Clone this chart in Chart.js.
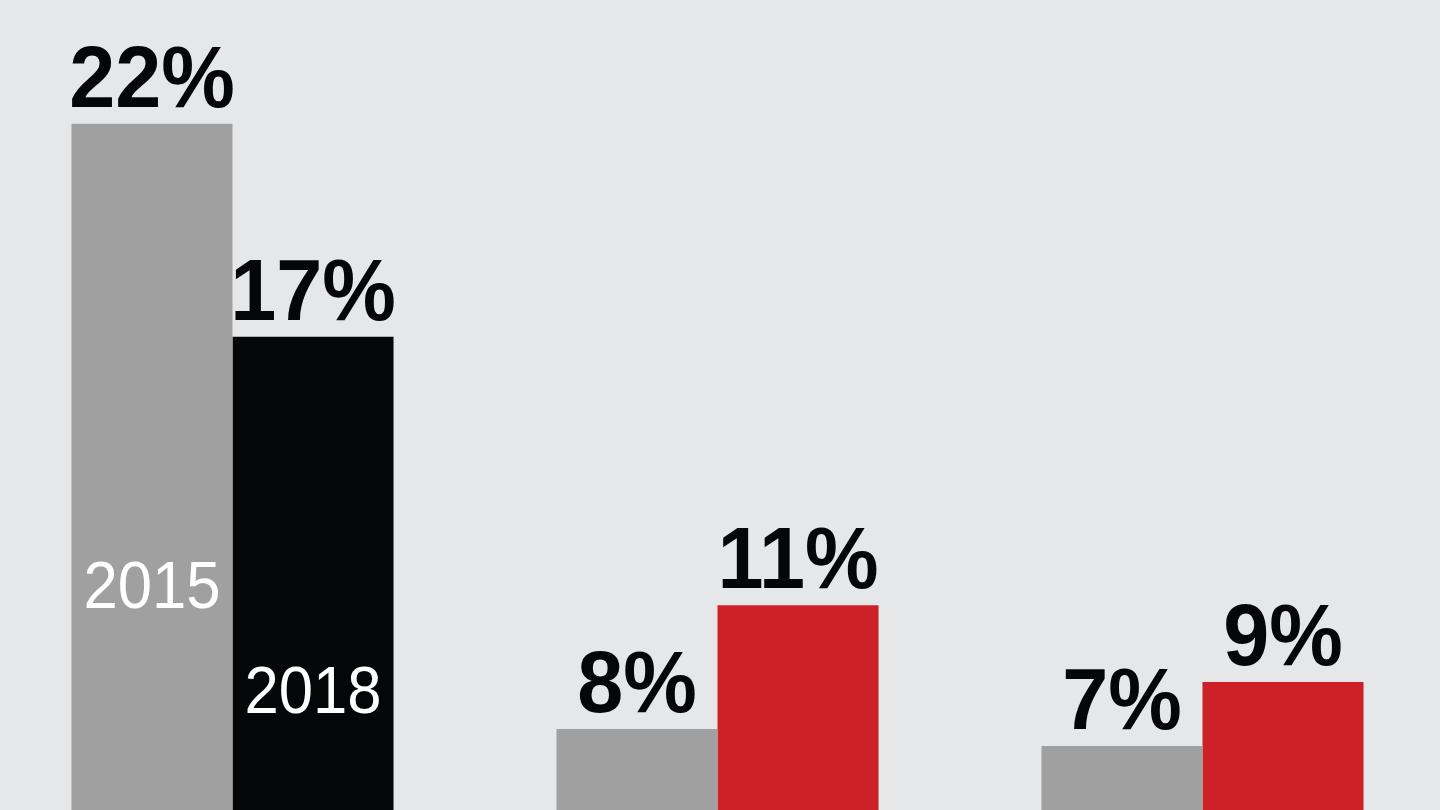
<!DOCTYPE html>
<html>
<head>
<meta charset="utf-8">
<script src="https://cdn.jsdelivr.net/npm/chart.js@4.4.1/dist/chart.umd.min.js"></script>
<style>
    html, body { margin: 0; padding: 0; background: #e6e7e9; overflow: hidden; }
    #wrap { position: absolute; left: -10.5px; top: 0; width: 1455px; height: 810px; }
</style>
</head>
<body>
<div id="wrap"><canvas id="barsChart"></canvas></div>
<script>
// data (share in %, bottom of picture is cropped)
var categories = ['A', 'B', 'C'];
var years = ['2015', '2018'];
var values2015 = [22, 7.8, 7.4];
var values2018 = [17, 10.7, 8.9];
var colors2018 = ['#040608', '#cd2027', '#cd2027'];

// text a bit narrower than Liberation Sans, like the Helvetica in the original
const drawNarrow = (ctx, text, x, y, squeeze) => {
    ctx.save();
    ctx.translate(x, y);
    ctx.scale(squeeze, 1);
    ctx.fillText(text, 0, 0);
    ctx.restore();
};

// draws the big % labels on top of the bars and the year names inside the first group
const labelPlugin = {
    id: 'labelPlugin',
    afterDatasetsDraw: (chart) => {
        const ctx = chart.ctx;
        const bottom = chart.chartArea.bottom;
        ctx.save();
        ctx.textAlign = 'center';
        ctx.textBaseline = 'alphabetic';
        chart.data.datasets.forEach((ds, di) => {
            const meta = chart.getDatasetMeta(di);
            meta.data.forEach((bar, i) => {
                ctx.fillStyle = '#040608';
                ctx.font = 'bold 88px "Liberation Sans", Arial, sans-serif';
                drawNarrow(ctx, Math.round(ds.data[i]) + '%', bar.x, bar.y - 17, 0.94);
            });
            // year label inside the first bar of each series
            const first = meta.data[0];
            ctx.fillStyle = '#ffffff';
            ctx.font = '67px "Liberation Sans", Arial, sans-serif';
            drawNarrow(ctx, ds.label, first.x, di === 0 ? bottom - 202 : bottom - 97, 0.92);
        });
        ctx.restore();
    }
};

const config = {
    type: 'bar',
    data: {
        labels: categories,
        datasets: [
            {
                label: years[0],
                data: values2015,
                backgroundColor: '#a0a0a0',
                borderWidth: 0,
                barPercentage: 1,
                categoryPercentage: 0.664
            },
            {
                label: years[1],
                data: values2018,
                backgroundColor: colors2018,
                borderWidth: 0,
                barPercentage: 1,
                categoryPercentage: 0.664
            }
        ]
    },
    options: {
        responsive: true,
        maintainAspectRatio: false,
        animation: false,
        layout: { padding: 0 },
        plugins: {
            legend: { display: false },
            tooltip: { enabled: false },
            title: { display: false }
        },
        scales: {
            x: { display: false },
            y: { display: false, min: 5.9, max: 24.9 }
        }
    },
    plugins: [labelPlugin]
};
new Chart('barsChart', config);
</script>
</body>
</html>
